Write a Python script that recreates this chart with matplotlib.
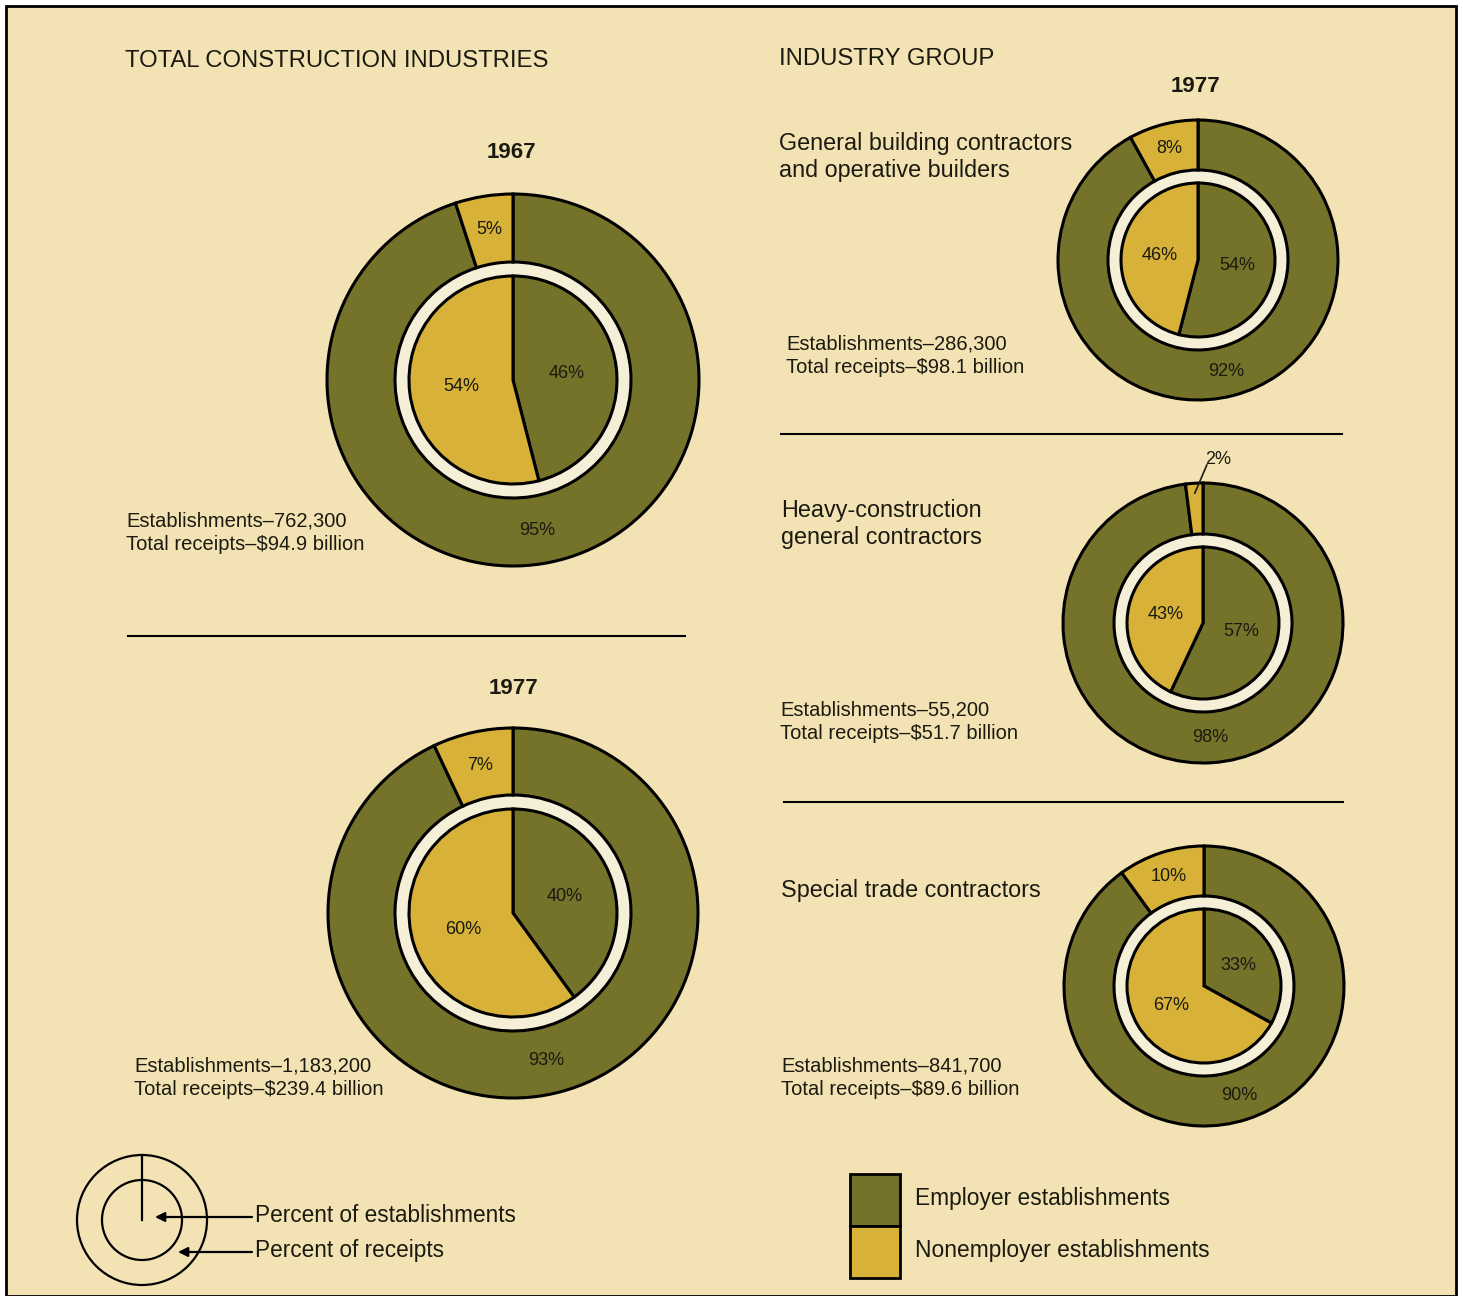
import matplotlib
matplotlib.use("Agg")
import matplotlib.pyplot as plt
from matplotlib.patches import Circle, Rectangle
import numpy as np

plt.rcParams['font.family'] = ['Liberation Sans', 'DejaVu Sans']

# --- data ---
pie_names = ['Total 1967', 'Total 1977', 'General building contractors\nand operative builders',
             'Heavy-construction\ngeneral contractors', 'Special trade contractors']
employer_receipts = [95, 93, 92, 98, 90]
nonemployer_receipts = [5, 7, 8, 2, 10]
employer_estab = [46, 40, 54, 57, 33]
nonemployer_estab = [54, 60, 46, 43, 67]
establishments = ['762,300', '1,183,200', '286,300', '55,200', '841,700']
total_receipts = ['$94.9', '$239.4', '$98.1', '$51.7', '$89.6']

W, H = 1463, 1296
BG = '#F3E3B4'
GAP = '#F5EFD8'
GREEN = '#75722A'
YELLOW = '#D7B138'
EDGE = 'black'
INK = '#1a1a10'

fig = plt.figure(figsize=(W / 100, H / 100), dpi=100)
fig.patch.set_facecolor('white')
ax = fig.add_axes([0, 0, 1, 1])

# frame
ax.add_patch(Rectangle((6, 6), 1450, 1290, facecolor=BG, edgecolor='black', lw=2, zorder=0))

# layout: center x, center y, outer radius, ring inner radius, inner pie radius
layout = [
    (513, 380, 186, 118, 104),
    (513, 913, 185, 118, 104),
    (1198, 260, 140, 90, 77),
    (1203, 623, 140, 89, 76),
    (1204, 986, 140, 90, 77),
]


def label_at(w, cx, cy, r, txt, fs=13):
    mid = np.deg2rad((w.theta1 + w.theta2) / 2)
    ax.text(cx + r * np.cos(mid), cy + r * np.sin(mid), txt, ha='center', va='center',
            fontsize=fs, color=INK, zorder=5)


for i, (cx, cy, R, rin, rp) in enumerate(layout):
    outer, _ = ax.pie([employer_receipts[i], nonemployer_receipts[i]], colors=[GREEN, YELLOW],
                      radius=R, center=(cx, cy), startangle=-90, counterclock=True, frame=True,
                      wedgeprops=dict(width=R - rin, edgecolor=EDGE, linewidth=2.2))
    ax.add_patch(Circle((cx, cy), rin - 1, facecolor=GAP, edgecolor='none', zorder=0.5))
    inner, _ = ax.pie([employer_estab[i], nonemployer_estab[i]], colors=[GREEN, YELLOW],
                      radius=rp, center=(cx, cy), startangle=-90, counterclock=True, frame=True,
                      wedgeprops=dict(edgecolor=EDGE, linewidth=2.2))
    rmid = (R + rin) / 2
    label_at(outer[0], cx, cy, rmid, f'{employer_receipts[i]}%')
    if nonemployer_receipts[i] >= 5:
        label_at(outer[1], cx, cy, rmid, f'{nonemployer_receipts[i]}%')
    else:
        # small slice: label outside with a leader line
        w = outer[1]
        mid = np.deg2rad((w.theta1 + w.theta2) / 2)
        x0, y0 = cx + R * 0.93 * np.cos(mid), cy + R * 0.93 * np.sin(mid)
        ax.plot([x0, x0 + 12], [y0, y0 - 28], color=INK, lw=1.2, zorder=5)
        ax.text(x0 + 10, y0 - 34, f'{nonemployer_receipts[i]}%', ha='left', va='center',
                fontsize=13, color=INK, zorder=5)
    label_at(inner[0], cx, cy, rp * 0.52, f'{employer_estab[i]}%')
    label_at(inner[1], cx, cy, rp * 0.5, f'{nonemployer_estab[i]}%')

# headers
ax.text(125, 61, 'TOTAL CONSTRUCTION INDUSTRIES', fontsize=17.2, ha='left', va='center', color=INK)
ax.text(779, 59, 'INDUSTRY GROUP', fontsize=17.2, ha='left', va='center', color=INK)
ax.text(511, 153, '1967', fontsize=16, fontweight='bold', ha='center', va='center', color=INK)
ax.text(514, 689, '1977', fontsize=16, fontweight='bold', ha='center', va='center', color=INK)
ax.text(1196, 86, '1977', fontsize=16, fontweight='bold', ha='center', va='center', color=INK)

# group names
ax.text(779, 157, pie_names[2], fontsize=16.8, ha='left', va='center', linespacing=1.25, color=INK)
ax.text(781, 524, pie_names[3], fontsize=16.8, ha='left', va='center', linespacing=1.25, color=INK)
ax.text(781, 890, pie_names[4], fontsize=16.8, ha='left', va='center', color=INK)

# establishments / receipts notes
note_pos = [(126, 533), (134, 1078), (786, 356), (780, 722), (781, 1078)]
for i, (x, y) in enumerate(note_pos):
    ax.text(x, y, f'Establishments\u2013{establishments[i]}\nTotal receipts\u2013{total_receipts[i]} billion',
            fontsize=14.5, ha='left', va='center', linespacing=1.3, color=INK)

# separators
ax.plot([128, 685], [636, 636], color='black', lw=1.5)
ax.plot([781, 1342], [434, 434], color='black', lw=1.5)
ax.plot([784, 1343], [802, 802], color='black', lw=1.5)

# key (left)
kx, ky = 142, 1220
ax.add_patch(Circle((kx, ky), 65, facecolor='none', edgecolor='black', lw=1.6))
ax.add_patch(Circle((kx, ky), 40, facecolor='none', edgecolor='black', lw=1.6))
ax.plot([kx, kx], [ky, ky - 65], color='black', lw=1.6)
arrow = dict(arrowstyle='-|>', color='black', lw=1.6, mutation_scale=14, shrinkA=0, shrinkB=0)
ax.annotate('', xy=(155, 1217), xytext=(252, 1217), arrowprops=arrow)
ax.annotate('', xy=(178, 1252), xytext=(252, 1252), arrowprops=arrow)
ax.text(255, 1215, 'Percent of establishments', fontsize=16.3, ha='left', va='center', color=INK)
ax.text(255, 1250, 'Percent of receipts', fontsize=16.3, ha='left', va='center', color=INK)

# key (right)
ax.add_patch(Rectangle((850, 1174), 50, 52, facecolor=GREEN, edgecolor='black', lw=2))
ax.add_patch(Rectangle((850, 1226), 50, 52, facecolor=YELLOW, edgecolor='black', lw=2))
ax.text(915, 1199, 'Employer establishments', fontsize=16.4, ha='left', va='center', color=INK)
ax.text(915, 1250, 'Nonemployer establishments', fontsize=16.4, ha='left', va='center', color=INK)

ax.set_xlim(0, W)
ax.set_ylim(H, 0)
ax.set_aspect('equal')
ax.axis('off')

fig.savefig('out.png', dpi=100, facecolor=fig.get_facecolor())
